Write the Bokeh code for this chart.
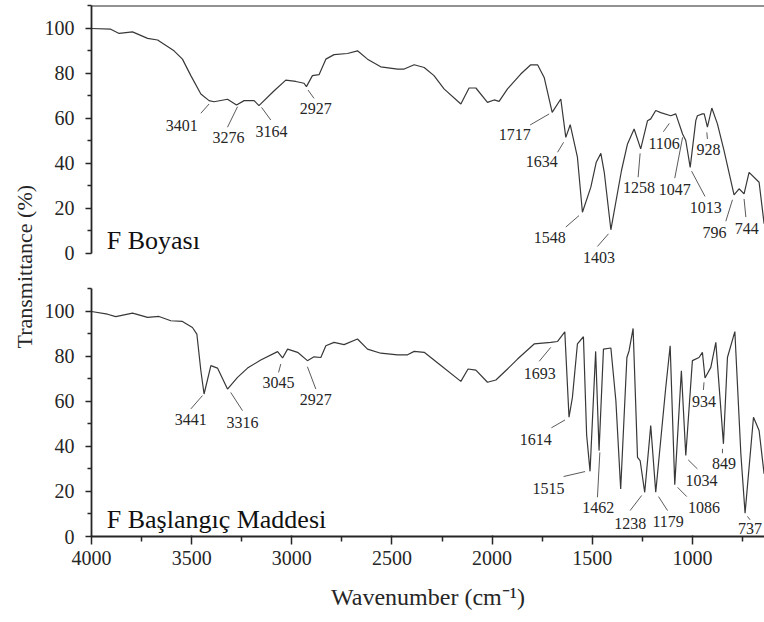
import math
from bokeh.plotting import figure
from bokeh.layouts import row, column
from bokeh.models import Range1d, FixedTicker, Span, ColumnDataSource
from bokeh.core.properties import value
from bokeh.embed import file_html
from bokeh.resources import INLINE

FONT = "Liberation Serif"

# ---------------- data ----------------
boy_wn = [4000, 3904, 3862, 3795, 3720, 3670, 3588, 3546, 3504, 3454, 3413, 3388, 3321, 3276,
          3238, 3188, 3164, 3088, 3030, 2980, 2939, 2927, 2897, 2864, 2830, 2789, 2722, 2672,
          2622, 2556, 2472, 2439, 2389, 2339, 2290, 2240, 2156, 2115, 2081, 2023, 1990, 1965,
          1923, 1857, 1807, 1773, 1740, 1700, 1657, 1632, 1610, 1574, 1549, 1507, 1480, 1457,
          1440, 1407, 1354, 1324, 1291, 1258, 1224, 1208, 1183, 1158, 1108, 1083, 1049, 1033,
          1011, 983, 975, 950, 941, 925, 903, 875, 842, 792, 767, 742, 717, 667, 642]
boy_t = [99.8, 99.5, 97.6, 98.3, 95.4, 94.7, 89.9, 86.2, 78.9, 70.7, 67.8, 67.3, 68.4, 65.9,
         67.8, 67.8, 65.6, 72.2, 76.9, 76.3, 75.5, 74.0, 78.9, 79.3, 86.2, 88.2, 88.7, 89.9,
         86.2, 82.8, 81.8, 81.8, 83.7, 82.5, 78.9, 73.0, 66.3, 73.4, 73.4, 67.0, 68.1, 67.5,
         73.0, 79.6, 83.7, 83.7, 78.1, 62.6, 68.5, 51.5, 57.1, 42.7, 18.3, 29.4, 40.5, 44.4,
         36.0, 10.5, 36.8, 48.6, 55.2, 46.4, 58.9, 59.7, 63.4, 62.5, 61.1, 61.9, 53.0, 50.1,
         38.2, 58.9, 61.1, 61.9, 61.9, 56.0, 64.5, 57.5, 45.6, 26.0, 28.7, 26.4, 36.0, 31.6, 13.2]

bas_wn = [4000, 3920, 3879, 3795, 3720, 3663, 3604, 3546, 3496, 3474, 3454, 3438, 3404, 3371,
          3321, 3271, 3221, 3155, 3071, 3046, 3021, 2971, 2922, 2889, 2855, 2830, 2789, 2739,
          2672, 2622, 2556, 2472, 2422, 2389, 2339, 2265, 2156, 2120, 2081, 2023, 1981, 1923,
          1873, 1790, 1707, 1673, 1637, 1616, 1599, 1574, 1544, 1528, 1511, 1483, 1466, 1444,
          1407, 1382, 1358, 1327, 1316, 1296, 1274, 1261, 1238, 1208, 1183, 1133, 1111, 1088,
          1055, 1033, 1000, 967, 950, 937, 908, 883, 845, 825, 788, 758, 737, 695, 667, 642]
bas_t = [99.8, 98.6, 97.5, 99.1, 97.2, 97.6, 95.7, 95.4, 92.7, 89.8, 73.5, 63.2, 75.8, 74.7,
         65.4, 70.6, 74.7, 78.3, 82.0, 79.2, 83.1, 81.7, 78.0, 79.7, 79.4, 84.6, 86.1, 85.1,
         87.6, 83.1, 81.3, 80.6, 80.6, 82.1, 81.7, 76.5, 68.8, 74.3, 73.8, 68.4, 69.4, 74.3,
         78.7, 85.4, 86.1, 86.5, 90.8, 52.9, 61.7, 85.4, 88.6, 45.0, 28.9, 82.1, 38.1, 83.1,
         83.6, 60.2, 21.1, 79.4, 82.4, 92.3, 35.1, 33.7, 19.6, 49.2, 19.6, 66.1, 84.6, 23.0,
         73.5, 35.9, 78.0, 79.4, 81.7, 70.3, 75.0, 86.1, 41.1, 79.4, 90.9, 36.6, 10.3, 52.9, 47.0, 27.8]

x_ticks = [4000, 3500, 3000, 2500, 2000, 1500, 1000]
x_minor = [3750, 3250, 2750, 2250, 1750, 1250, 750]
y_ticks = [0, 20, 40, 60, 80, 100]
y_minor = [10, 30, 50, 70, 90, 110]

panel_titles = ["F Boyası", "F Başlangıç Maddesi"]
y_title = "Transmittance (%)"
x_title = "Wavenumber (cm⁻¹)"

# peak labels
boy_peaks = ["3401", "3276", "3164", "2927", "1717", "1634", "1548", "1403", "1258", "1106",
             "1047", "1013", "928", "796", "744"]
bas_peaks = ["3441", "3316", "3045", "2927", "1693", "1614", "1515", "1462", "1238", "1179",
             "1086", "1034", "934", "849", "737"]

# annotation layout (label position and leader-line ends)
boy_lx = [3549, 3316, 3101, 2880, 1887, 1752, 1712, 1466, 1266, 1141, 1088, 933, 920, 890, 729]
boy_ly = [56.7, 51.5, 54.0, 64.1, 52.6, 40.8, 7.0, -1.9, 29.4, 49.0, 28.5, 20.2, 45.9, 9.4, 11.2]
boy_x0 = [3454, 3321, 3105, 2889, 1810, 1673, 1632, 1474, 1271, 1145, 1088, 937, 925, 833, 733]
boy_y0 = [62.2, 56.0, 59.2, 68.8, 57.0, 44.9, 11.7, 3.1, 33.8, 54.0, 33.4, 25.3, 50.8, 14.3, 16.1]
boy_x1 = [3413, 3271, 3151, 2919, 1715, 1643, 1566, 1419, 1261, 1115, 1049, 1004, 928, 800, 742]
boy_y1 = [66.3, 65.1, 64.8, 72.5, 61.9, 49.3, 16.8, 8.7, 44.4, 57.7, 51.5, 36.5, 53.7, 23.8, 24.2]

bas_lx = [3504, 3246, 3066, 2880, 1762, 1782, 1718, 1470, 1310, 1121, 942, 955, 942, 842, 712]
bas_ly = [51.7, 50.6, 68.4, 60.7, 72.5, 43.0, 21.1, 13.0, 5.6, 6.8, 12.7, 24.8, 59.9, 32.5, 3.4]
bas_x0 = [3504, 3246, 3066, 2880, 1765, 1704, 1643, 1474, 1311, 1124, 1028, 975, 945, 850, 712]
bas_y0 = [56.6, 55.8, 72.8, 65.4, 77.7, 48.2, 26.6, 17.4, 11.5, 11.5, 17.7, 30.0, 65.0, 36.9, 7.4]
bas_x1 = [3446, 3305, 3055, 2922, 1707, 1636, 1536, 1462, 1253, 1169, 1074, 1021, 942, 850, 725]
bas_y1 = [62.5, 63.9, 76.5, 75.3, 83.9, 51.7, 28.8, 37.3, 18.2, 17.7, 21.8, 34.0, 68.4, 38.9, 8.9]

INK = "#262626"
CURVE = "#383838"
COL_W = 726
LEFT = 53


def style_axis(ax, ticks, minor, tick_out, minor_out, standoff):
    ax.ticker = FixedTicker(ticks=ticks, minor_ticks=minor)
    ax.major_tick_out = tick_out
    ax.major_tick_in = 1
    ax.minor_tick_out = minor_out
    ax.minor_tick_in = 0
    ax.major_label_standoff = standoff
    ax.major_label_text_font = FONT
    ax.major_label_text_font_size = "20px"
    ax.major_label_text_color = INK
    ax.axis_line_color = INK
    ax.axis_line_width = 1.8
    ax.major_tick_line_color = INK
    ax.major_tick_line_width = 1.5
    ax.minor_tick_line_color = INK
    ax.minor_tick_line_width = 1.5


def panel(wn, t, peaks, lx, ly, x0, y0, x1, y1, title, title_y, y0r, height, mbt, mbb, show_x):
    p = figure(width=COL_W, height=height, x_range=Range1d(4000, 640), y_range=Range1d(y0r, 110),
               x_axis_location="below" if show_x else None, toolbar_location=None,
               output_backend="svg", title=None, min_border_left=LEFT, min_border_right=0,
               min_border_top=mbt, min_border_bottom=mbb, outline_line_color=None,
               background_fill_color="white", border_fill_color="white")
    p.grid.visible = False
    yax = p.yaxis[0]
    style_axis(yax, y_ticks, y_minor, 6, 4, 11)
    yax.major_tick_in = 0
    yax.bounds = (0, 110)
    if show_x:
        ax = p.xaxis[0]
        style_axis(ax, x_ticks, x_minor, 8, 5, 6)
        ax.axis_label = x_title
        ax.axis_label_text_font = FONT
        ax.axis_label_text_font_size = "24px"
        ax.axis_label_text_font_style = "normal"
        ax.axis_label_text_color = INK
        ax.axis_label_standoff = 16
    else:
        p.add_layout(Span(location=110, dimension="width", line_color=INK, line_width=2))

    p.line(wn, t, line_color=CURVE, line_width=1.2)
    p.segment(x0=x0, y0=y0, x1=x1, y1=y1, line_color="#5a5a5a", line_width=1)
    src = ColumnDataSource(dict(x=lx, y=ly, text=peaks))
    p.text(x="x", y="y", text="text", source=src, text_align="center", text_baseline="middle",
           text_font=value(FONT), text_font_size="16px", text_color=INK)
    p.text(x=[3924], y=[title_y], text=[title], text_align="left", text_baseline="alphabetic",
           text_font=value(FONT), text_font_size="26px", text_color="#111111")
    return p


top = panel(boy_wn, boy_t, boy_peaks, boy_lx, boy_ly, boy_x0, boy_y0, boy_x1, boy_y1,
            panel_titles[0], 5.8, -12, 280, 5, 0, False)
bot = panel(bas_wn, bas_t, bas_peaks, bas_lx, bas_ly, bas_x0, bas_y0, bas_x1, bas_y1,
            panel_titles[1], 7.4, 0, 342, 8, 86, True)

lf = figure(width=38, height=622, x_range=Range1d(0, 1), y_range=Range1d(0, 1),
            x_axis_location=None, y_axis_location=None, toolbar_location=None,
            output_backend="svg", title=None, min_border=0, outline_line_color=None)
lf.grid.visible = False
lf.text(x=[0.632], y=[0.572], text=[y_title], angle=math.pi / 2, text_align="center",
        text_baseline="middle", text_font=value(FONT), text_font_size="22px", text_color=INK)

layout = row(lf, column(top, bot))
open("out.html", "w").write(file_html(layout, INLINE))
